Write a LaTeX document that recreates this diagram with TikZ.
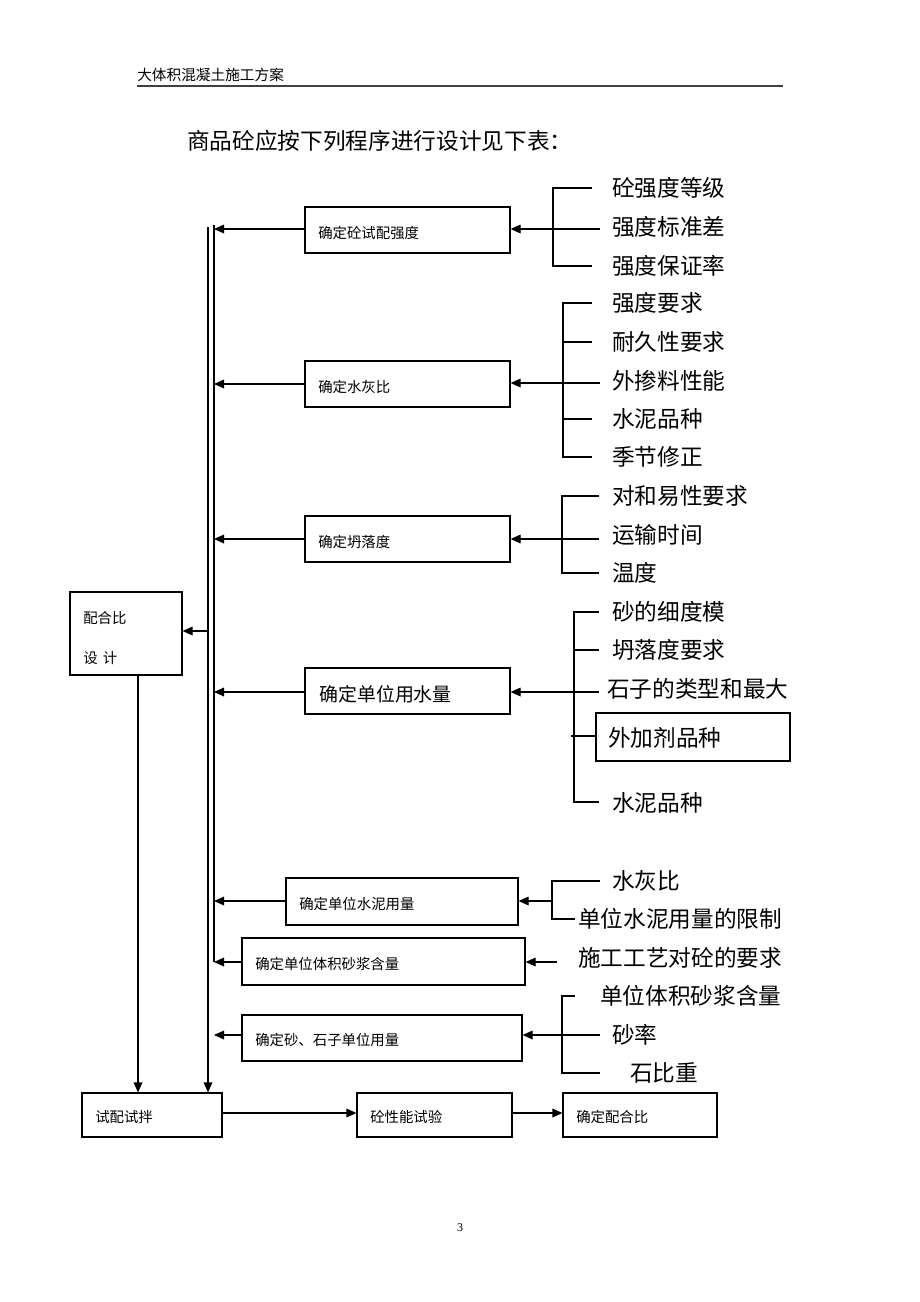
\documentclass[tikz,border=0pt]{standalone}
\usepackage{fontspec}
\setmainfont{Liberation Serif}
\newfontfamily\cjk{Noto Sans CJK SC}
\usetikzlibrary{arrows.meta,fit}
\begin{document}
\begin{tikzpicture}[x=0.75pt,y=-0.75pt,
  ln/.style={line width=0.9pt},
  box/.style={draw, line width=0.9pt, inner sep=0pt},
  arr/.style={line width=0.9pt, -{Triangle[length=7.5pt,width=6.5pt]}},
  sm/.style={font=\cjk\fontsize{10.8}{12}\selectfont, anchor=west, inner sep=0pt},
  md/.style={font=\cjk\fontsize{14.2}{16}\selectfont, anchor=west, inner sep=0pt},
  lg/.style={font=\cjk\fontsize{17}{20}\selectfont, anchor=west, inner sep=0pt}]
\useasboundingbox (0,0) rectangle (920,1302);
\fill[white] (0,0) rectangle (920,1302);

% header
\node[font=\cjk\fontsize{11}{12}\selectfont, anchor=west, inner sep=0pt] (hd) at (137,75) {大体积混凝土施工方案};
\coordinate (hl1) at (137,86);
\coordinate (hl2) at (783,86);
\draw[line width=1.5pt, black!75] (hl1) -- (hl2);
\node[lg] (title) at (187,141) {商品砼应按下列程序进行设计见下表：};

% main bus lines
\coordinate (vLt) at (208,227);
\coordinate (vRt) at (214,225);
\coordinate (vRb) at (214,962);

% boxes (middle column)
\node[box, fit={(305,207) (510,253)}] (b1) {};
\node[sm] (t1) at (318,233) {确定砼试配强度};
\node[box, fit={(305,361) (510,407)}] (b2) {};
\node[sm] (t2) at (318,387) {确定水灰比};
\node[box, fit={(305,516) (510,562)}] (b3) {};
\node[sm] (t3) at (318,542) {确定坍落度};
\node[box, fit={(305,668) (510,714)}] (b4) {};
\node[md] (t4) at (319,694) {确定单位用水量};
\node[box, fit={(286,878) (518,925)}] (b5) {};
\node[sm] (t5) at (299,904) {确定单位水泥用量};
\node[box, fit={(242,938) (525,985)}] (b6) {};
\node[sm] (t6) at (255,964) {确定单位体积砂浆含量};
\node[box, fit={(242,1015) (522,1061)}] (b7) {};
\node[sm] (t7) at (255,1040) {确定砂、石子单位用量};

% left box
\node[box, fit={(70,592) (182,675)}] (pb) {};
\node[sm] (pt1) at (83,618) {配合比};
\node[sm] (pt2) at (83,658) {设\hspace{4pt}计};

% bottom boxes
\node[box, fit={(82,1093) (222,1137)}] (s1) {};
\node[sm] (st1) at (95,1117) {试配试拌};
\node[box, fit={(357,1093) (512,1137)}] (s2) {};
\node[sm] (st2) at (370,1117) {砼性能试验};
\node[box, fit={(563,1093) (717,1137)}] (s3) {};
\node[sm] (st3) at (576,1117) {确定配合比};

% bus
\draw[arr] (vLt) -- (vLt |- s1.north);
\draw[ln] (vRt) -- (vRb);
\coordinate (pd) at (138,675);
\draw[arr] (pd) -- (pd |- s1.north);
\coordinate (pbr) at (208,631);
\draw[arr] (pbr) -- (pbr -| pb.east);

% arrows from boxes to bus
\foreach \b/\y in {b1/229,b2/384,b3/539,b4/692,b5/901,b6/962,b7/1035}{
  \coordinate (a\b) at (214,\y);
  \draw[arr] (\b.west |- a\b) -- (a\b);
}

% bracket 1
\node[lg] (l11) at (612,188) {砼强度等级};
\node[lg] (l12) at (612,227) {强度标准差};
\node[lg] (l13) at (612,266) {强度保证率};
\draw[ln] (592,188) -- (553,188) -- (553,266) -- (592,266);
\coordinate (k1) at (600,229);
\draw[arr] (k1) -- (k1 -| b1.east);

% bracket 2
\node[lg] (l21) at (612,303) {强度要求};
\node[lg] (l22) at (612,342) {耐久性要求};
\node[lg] (l23) at (612,381) {外掺料性能};
\node[lg] (l24) at (612,419) {水泥品种};
\node[lg] (l25) at (612,457) {季节修正};
\draw[ln] (592,303) -- (563,303) -- (563,457) -- (592,457);
\draw[ln] (563,342) -- (592,342);
\draw[ln] (563,419) -- (592,419);
\coordinate (k2) at (600,383);
\draw[arr] (k2) -- (k2 -| b2.east);

% bracket 3
\node[lg] (l31) at (612,496) {对和易性要求};
\node[lg] (l32) at (612,535) {运输时间};
\node[lg] (l33) at (612,573) {温度};
\draw[ln] (599,496) -- (562,496) -- (562,573) -- (599,573);
\coordinate (k3) at (599,539);
\draw[arr] (k3) -- (k3 -| b3.east);

% bracket 4
\node[lg] (l41) at (612,612) {砂的细度模};
\node[lg] (l42) at (612,650) {坍落度要求};
\node[lg] (l43) at (607,689) {石子的类型和最大};
\node[box, fit={(596,713) (790,761)}] (l44b) {};
\node[lg] (l44) at (608,738) {外加剂品种};
\node[lg] (l45) at (612,803) {水泥品种};
\draw[ln] (599,612) -- (574,612) -- (574,802) -- (599,802);
\draw[ln] (574,650) -- (599,650);
\coordinate (k44) at (571,736);
\draw[ln] (k44) -- (k44 -| l44b.west);
\coordinate (k4) at (599,692);
\draw[arr] (k4) -- (k4 -| b4.east);

% bracket 5
\node[lg] (l51) at (612,881) {水灰比};
\node[lg] (l52) at (578,919) {单位水泥用量的限制};
\draw[ln] (600,881) -- (552,881) -- (552,919) -- (575,919);
\coordinate (k5) at (552,901);
\draw[arr] (k5) -- (k5 -| b5.east);

% line 6
\node[lg] (l61) at (578,958) {施工工艺对砼的要求};
\coordinate (k6) at (557,962);
\draw[arr] (k6) -- (k6 -| b6.east);

% bracket 7
\node[lg] (l71) at (600,996) {单位体积砂浆含量};
\node[lg] (l72) at (612,1035) {砂率};
\node[lg] (l73) at (630,1073) {石比重};
\draw[ln] (575,996) -- (562,996) -- (562,1073) -- (600,1073);
\coordinate (k7) at (600,1035);
\draw[arr] (k7) -- (k7 -| b7.east);

% bottom arrows
\coordinate (m1) at (222,1113);
\coordinate (m2) at (512,1113);
\draw[arr] (m1) -- (m1 -| s2.west);
\draw[arr] (m2) -- (m2 -| s3.west);

% page number
\node[font=\fontsize{9}{10}\selectfont, inner sep=0pt] (pg) at (460,1228) {3};
\end{tikzpicture}
\end{document}
